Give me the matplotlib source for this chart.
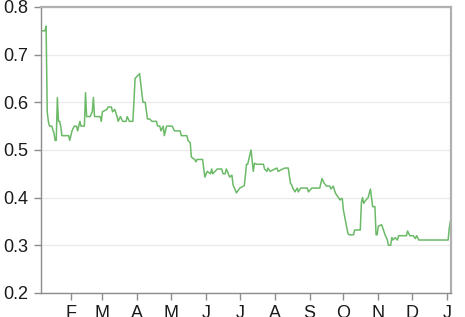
import matplotlib
matplotlib.use("Agg")
import matplotlib.pyplot as plt
import matplotlib.dates as mdates
import pandas as pd

# day of year (0 = Jan 1) and value
days = [5, 8, 9, 10, 11, 12, 14, 16, 17, 18, 19, 20, 21, 22, 23, 27, 29, 30, 31, 32,
        34, 36, 37, 39, 40, 43, 44, 45, 48, 50, 51, 52, 57, 58, 59, 63, 64, 67, 68, 70,
        72, 73, 75, 77, 80, 81, 83, 86, 87, 88, 90, 92, 94, 95, 97, 99, 101, 103, 107, 108,
        110, 111, 113, 114, 116, 121, 123, 128, 129, 134, 135, 137, 138, 141, 142, 143, 148, 149, 150, 152,
        155, 156, 157, 159, 161, 165, 166, 168, 169, 170, 172, 174, 175, 177, 178, 181, 185, 187, 188, 190,
        191, 193, 194, 196, 202, 203, 205, 206, 208, 212, 214, 215, 219, 221, 224, 226, 227, 228, 230, 232,
        233, 235, 241, 242, 245, 252, 254, 256, 258, 261, 262, 264, 266, 268, 270, 271, 272, 273, 275, 277,
        278, 282, 283, 288, 289, 290, 291, 293, 295, 297, 298, 299, 301, 302, 303, 304, 307, 308, 310, 312,
        313, 315, 316, 317, 319, 321, 322, 329, 330, 332, 335, 337, 338, 340, 366, 367, 368]
rate = [0.75, 0.75, 0.76, 0.58, 0.56, 0.55, 0.55, 0.535, 0.52, 0.52, 0.61, 0.56, 0.56, 0.55, 0.53, 0.53, 0.53, 0.52, 0.53, 0.54,
        0.55, 0.55, 0.54, 0.56, 0.55, 0.55, 0.62, 0.57, 0.57, 0.58, 0.61, 0.57, 0.57, 0.56, 0.58, 0.585, 0.59, 0.59, 0.58, 0.585,
        0.57, 0.56, 0.57, 0.56, 0.56, 0.57, 0.56, 0.56, 0.60, 0.65, 0.655, 0.66, 0.62, 0.60, 0.60, 0.565, 0.565, 0.56, 0.56, 0.55,
        0.55, 0.54, 0.55, 0.53, 0.55, 0.55, 0.54, 0.54, 0.53, 0.53, 0.52, 0.515, 0.485, 0.48, 0.475, 0.48, 0.48, 0.46, 0.443, 0.455,
        0.45, 0.46, 0.45, 0.455, 0.46, 0.46, 0.45, 0.45, 0.46, 0.455, 0.443, 0.447, 0.427, 0.416, 0.41, 0.42, 0.425, 0.47, 0.47, 0.49,
        0.50, 0.455, 0.472, 0.47, 0.47, 0.46, 0.455, 0.462, 0.455, 0.46, 0.462, 0.455, 0.46, 0.462, 0.462, 0.43, 0.427, 0.42, 0.412, 0.42,
        0.412, 0.42, 0.42, 0.412, 0.42, 0.42, 0.44, 0.43, 0.424, 0.424, 0.418, 0.424, 0.409, 0.402, 0.395, 0.398, 0.398, 0.374, 0.35, 0.325,
        0.322, 0.322, 0.332, 0.332, 0.39, 0.40, 0.388, 0.395, 0.40, 0.418, 0.40, 0.381, 0.381, 0.322, 0.322, 0.34, 0.343, 0.336, 0.322, 0.311,
        0.30, 0.30, 0.316, 0.311, 0.316, 0.311, 0.32, 0.32, 0.33, 0.32, 0.32, 0.314, 0.32, 0.311, 0.311, 0.336, 0.35]
month_labels = ["F", "M", "A", "M", "J", "J", "A", "S", "O", "N", "D", "J"]

start = pd.Timestamp("2013-01-01")
dates = start + pd.to_timedelta(days, unit="D")

plt.rcParams["font.family"] = ["Liberation Sans", "DejaVu Sans"]

fig = plt.figure(figsize=(4.65, 3.17), dpi=100)
ax = fig.add_axes([0.088, 0.076, 0.882, 0.902])

ax.plot(dates, rate, color="#6cba68", linewidth=1.1)

ax.set_ylim(0.2, 0.8)
ax.set_yticks([0.2, 0.3, 0.4, 0.5, 0.6, 0.7, 0.8])
ax.set_yticklabels(["0.2", "0.3", "0.4", "0.5", "0.6", "0.7", "0.8"])
ax.set_xlim(start + pd.Timedelta(days=4.4), start + pd.Timedelta(days=368.6))

month_ticks = pd.date_range("2013-02-01", periods=12, freq="MS")
ax.set_xticks(month_ticks)
ax.set_xticklabels(month_labels)

ax.grid(axis="y", color="#ebebeb", linewidth=1)
ax.set_axisbelow(True)

for side in ["left", "bottom"]:
    ax.spines[side].set_color("#8c8c8c")
    ax.spines[side].set_linewidth(1)
for side in ["top", "right"]:
    ax.spines[side].set_color("#b0b0b0")
    ax.spines[side].set_linewidth(1.6)

ax.tick_params(axis="both", length=5, width=1, color="#8c8c8c", labelsize=13, labelcolor="#1a1a1a", pad=4)

plt.savefig("out.png", dpi=100)
